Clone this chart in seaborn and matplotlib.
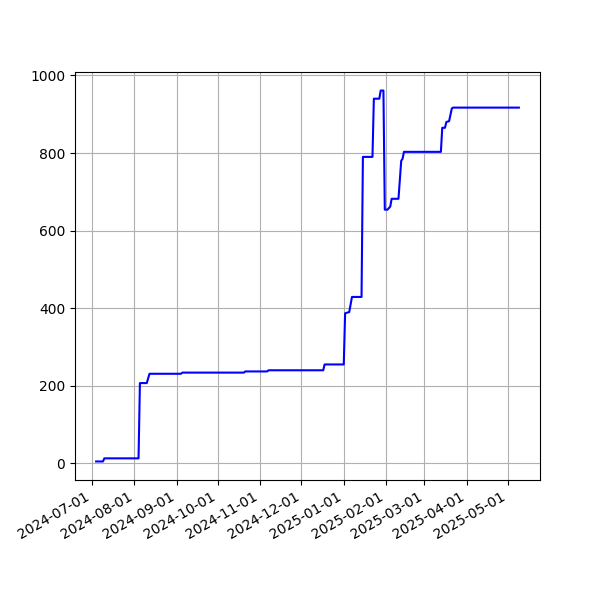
import pandas as pd
import matplotlib
matplotlib.use("Agg")
import matplotlib.pyplot as plt
import matplotlib.dates as mdates
import seaborn as sns

# daily snapshots at the points where the value changes
dates = [
    "2024-07-04", "2024-07-09", "2024-07-10", "2024-08-04", "2024-08-05",
    "2024-08-10", "2024-08-12", "2024-09-04", "2024-09-05", "2024-10-20",
    "2024-10-21", "2024-11-06", "2024-11-07", "2024-12-17", "2024-12-18",
    "2025-01-01", "2025-01-02", "2025-01-05", "2025-01-07", "2025-01-14",
    "2025-01-15", "2025-01-22", "2025-01-23", "2025-01-27", "2025-01-28",
    "2025-01-30", "2025-01-31", "2025-02-02", "2025-02-04", "2025-02-05",
    "2025-02-10", "2025-02-12", "2025-02-13", "2025-02-14", "2025-03-13",
    "2025-03-14", "2025-03-16", "2025-03-17", "2025-03-19", "2025-03-21",
    "2025-03-22", "2025-05-09",
]
values = [
    5, 5, 13, 13, 207,
    207, 231, 231, 234, 234,
    237, 237, 240, 240, 255,
    255, 387, 390, 429, 429,
    790, 790, 940, 940, 961,
    961, 654, 654, 662, 682,
    682, 780, 785, 803, 803,
    865, 865, 880, 882, 915,
    917, 917,
]

df = pd.DataFrame({"date": pd.to_datetime(dates), "value": values})

fig, ax = plt.subplots(figsize=(6, 6), dpi=100)
sns.lineplot(data=df, x="date", y="value", color="blue", linewidth=1.5, ax=ax)

ax.xaxis.set_major_locator(mdates.MonthLocator())
ax.xaxis.set_major_formatter(mdates.DateFormatter("%Y-%m-%d"))
ax.set_xlabel("")
ax.set_ylabel("")
ax.grid(True)
fig.autofmt_xdate()

plt.savefig("out.png")
